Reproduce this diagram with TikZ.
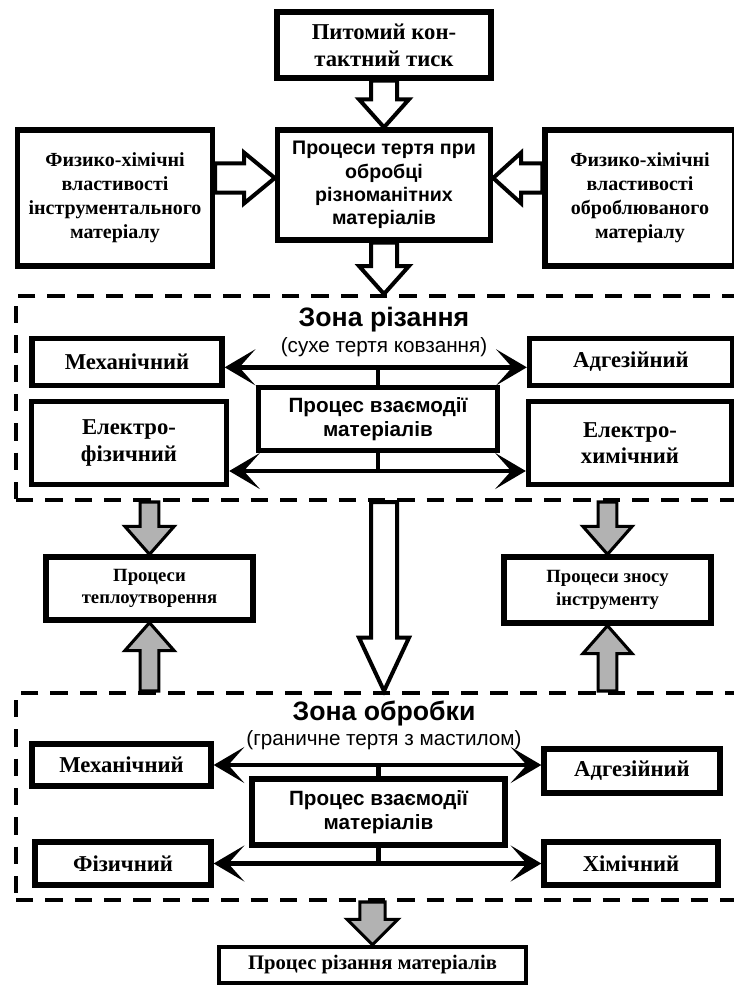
\documentclass[tikz,border=0pt]{standalone}
\usepackage{fontspec}
\setmainfont{Liberation Serif}
\setsansfont{Liberation Sans}
\usetikzlibrary{arrows.meta, positioning, calc}

\newcommand{\blockarrow}[6][hollow]{%
  \coordinate (ba) at ($(#3)!#6!(#2)$);
  \draw[#1] ($(#2)!#4!90:(#3)$) -- ($(ba)!#4!90:(#3)$) -- ($(ba)!#5!90:(#3)$) -- (#3)
    -- ($(ba)!#5!-90:(#3)$) -- ($(ba)!#4!-90:(#3)$) -- ($(#2)!#4!-90:(#3)$) -- cycle;}

\begin{document}
\begin{tikzpicture}[x=0.75pt, y=-0.75pt,
  size/.style 2 args={minimum width=#1*0.75pt, minimum height=#2*0.75pt},
  box/.style={draw, line width=4pt, align=center, inner sep=1pt,
    font=\bfseries\fontsize{15}{18}\selectfont},
  zbox/.style={box, font=\bfseries\fontsize{17}{20}\selectfont},
  sbox/.style={box, font=\sffamily\bfseries\fontsize{15.5}{17.5}\selectfont},
  zone/.style={draw, dash pattern=on 13pt off 9pt, line width=3pt, inner sep=0pt},
  ztitle/.style={font=\sffamily\bfseries\fontsize{20}{22}\selectfont},
  zsub/.style={font=\sffamily\fontsize{15.5}{17}\selectfont},
  link/.style={line width=3.5pt, {Stealth[length=23pt,width=27pt,inset=12pt]}-{Stealth[length=23pt,width=27pt,inset=12pt]}},
  stem/.style={line width=3.5pt},
  hollow/.style={draw, line width=3pt, fill=white, line join=miter},
  grey/.style={hollow, line width=2.3pt, fill=black!30}]
\useasboundingbox (0,0) rectangle (733,989);

% top part
\node[zbox, size={214}{66}] (press) at (384,45) {Питомий кон-\\тактний тиск};
\node[sbox, font=\sffamily\bfseries\fontsize{14.7}{17.5}\selectfont, size={213}{110}] (fric) at (384,185) {Процеси тертя при\\обробці\\різноманітних\\матеріалів};
\node[box, size={195}{136}] (tool) at (115,198) {Физико-хімічні\\властивості\\інструментального\\матеріалу};
\node[box, size={190}{136}] (work) at (640,198) {Физико-хімічні\\властивості\\оброблюваного\\матеріалу};

% zone 1
\node[zone, size={729}{204}] (zone1) at (380.5,398) {};
\node[ztitle] (title1) at (384,320) {Зона різання};
\node[zsub] (sub1) at (384,347) {(сухе тертя ковзання)};
\node[zbox, size={190}{47}] (mech1) at (127,362) {Механічний};
\node[zbox, size={203}{47}] (adh1) at (631,362) {Адгезійний};
\node[sbox, size={239}{63}] (inter1) at (378,419) {Процес взаємодії\\матеріалів};
\node[zbox, size={195}{83}] (ephys) at (129,443) {Електро-\\фізичний};
\node[zbox, size={203}{83}] (echem) at (630,443) {Електро-\\химічний};

% between zones
\node[box, size={207}{63}, font=\bfseries\fontsize{14}{17}\selectfont] (heat) at (149.5,588.5) {Процеси\\теплоутворення};
\node[box, size={207}{66}, font=\bfseries\fontsize{14}{17}\selectfont] (wear) at (607.5,590) {Процеси зносу\\інструменту};

% zone 2
\node[zone, size={729}{207}] (zone2) at (380.5,796.5) {};
\node[ztitle] (title2) at (384,713) {Зона обробки};
\node[zsub] (sub2) at (384,740) {(граничне тертя з мастилом)};
\node[zbox, size={179}{42}] (mech2) at (121.5,765) {Механічний};
\node[zbox, size={176}{44}] (adh2) at (632,771) {Адгезійний};
\node[sbox, size={253}{66}] (inter2) at (378.5,812) {Процес взаємодії\\матеріалів};
\node[zbox, size={176}{43}] (phys) at (123,863.5) {Фізичний};
\node[zbox, size={174}{43}] (chem) at (631,863.5) {Хімічний};

\node[box, size={307}{36}, line width=3.5pt, font=\bfseries\fontsize{15.5}{18}\selectfont] (res) at (372.5,965) {Процес різання матеріалів};

% links inside the zones
\coordinate (l1a) at ([yshift=-4pt]mech1.east);
\coordinate (l1b) at ([yshift=-21pt]ephys.east);
\draw[link] (l1a) -- (l1a -| adh1.west);
\draw[link] (l1b) -- (l1b -| echem.west);
\draw[stem] (inter1.north) -- (inter1.north |- l1a);
\draw[stem] (inter1.south) -- (inter1.south |- l1b);
\draw[link] (mech2.east) -- (mech2.east -| adh2.west);
\draw[link] (phys.east) -- (chem.west);
\draw[stem] (inter2.north) -- (inter2.north |- mech2.east);
\draw[stem] (inter2.south) -- (inter2.south |- phys.east);

% block arrows
\coordinate (tl) at ([yshift=15pt]tool.east);
\coordinate (tr) at (tl -| fric.west);
\coordinate (wl) at (tl -| work.west);
\coordinate (wr) at (tl -| fric.east);
\coordinate (z1n) at (zone1.north -| fric.south);
\coordinate (z1s) at (zone1.south -| fric.south);
\coordinate (z2n) at (zone2.north -| fric.south);
\coordinate (h1) at (zone1.south -| heat.north);
\coordinate (h2) at (zone2.north -| heat.south);
\coordinate (w1) at (zone1.south -| wear.north);
\coordinate (w2) at (zone2.north -| wear.south);
\coordinate (z2s) at (zone2.south -| res.north);
\blockarrow{press.south}{fric.north}{9.75pt}{18.75pt}{21pt}
\blockarrow{fric.south}{z1n}{9.75pt}{18.75pt}{21pt}
\blockarrow{tl}{tr}{11pt}{19pt}{23pt}
\blockarrow{wl}{wr}{11pt}{19pt}{21pt}
\blockarrow{z1s}{z2n}{9.75pt}{18.75pt}{40pt}
\blockarrow[grey]{h1}{heat.north}{7pt}{18.5pt}{21pt}
\blockarrow[grey]{h2}{heat.south}{7pt}{18.5pt}{21pt}
\blockarrow[grey]{w1}{wear.north}{7pt}{18.5pt}{21pt}
\blockarrow[grey]{w2}{wear.south}{7pt}{18.5pt}{21pt}
\blockarrow[grey]{z2s}{res.north}{9.5pt}{19pt}{19pt}
\end{tikzpicture}
\end{document}
